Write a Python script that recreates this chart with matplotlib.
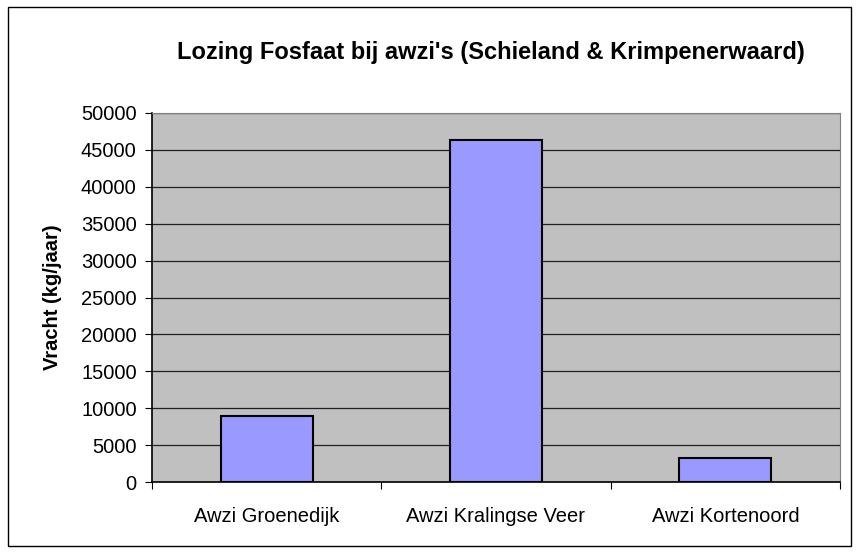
import matplotlib
matplotlib.use('Agg')
import matplotlib.pyplot as plt
from matplotlib.patches import Rectangle

plt.rcParams['font.family'] = ['Liberation Sans', 'DejaVu Sans']

# data
categories = ['Awzi Groenedijk', 'Awzi Kralingse Veer', 'Awzi Kortenoord']
vracht = [8900, 46400, 3250]
yticks = list(range(0, 50001, 5000))

fig = plt.figure(figsize=(8.58, 5.53), dpi=100)
ax = fig.add_axes([152/858, 71/553, 688/858, 369/553])

ax.set_facecolor('#C0C0C0')
x = list(range(len(categories)))
ax.bar(x, vracht, width=0.4, color='#9999FF', edgecolor='black', linewidth=1.5, zorder=3)

ax.set_xlim(-0.5, len(categories) - 0.5)
ax.set_ylim(0, 50000)
ax.set_yticks(yticks)
ax.set_yticklabels([str(v) for v in yticks], fontsize=14.5)
ax.yaxis.grid(True, color='#202020', linewidth=0.9, zorder=1)
ax.set_axisbelow(True)

# category ticks at the boundaries, labels centred
ax.set_xticks([i + 0.5 for i in x[:-1]] + [-0.5, len(categories) - 0.5])
ax.set_xticklabels([])
ax.set_xticks(x, minor=True)
ax.set_xticklabels(categories, minor=True, fontsize=14.5)
ax.tick_params(axis='x', which='minor', length=0, pad=18)
ax.tick_params(axis='x', which='major', length=5, color='black')
ax.tick_params(axis='y', length=5, color='black', pad=6)

for s in ['top', 'right']:
    ax.spines[s].set_color('#808080')
for s in ['left', 'bottom']:
    ax.spines[s].set_color('black')
    ax.spines[s].set_linewidth(1.2)

ax.set_ylabel('Vracht (kg/jaar)', fontsize=14.5, fontweight='bold', labelpad=14)

fig.text(491/858, 1 - 53/553, "Lozing Fosfaat bij awzi's (Schieland & Krimpenerwaard)",
         ha='center', va='center', fontsize=17, fontweight='bold')

fig.patches.append(Rectangle((8/858, 7/553), 843/858, 539/553, transform=fig.transFigure,
                             fill=False, edgecolor='black', linewidth=1))

plt.savefig('out.png', dpi=100)
